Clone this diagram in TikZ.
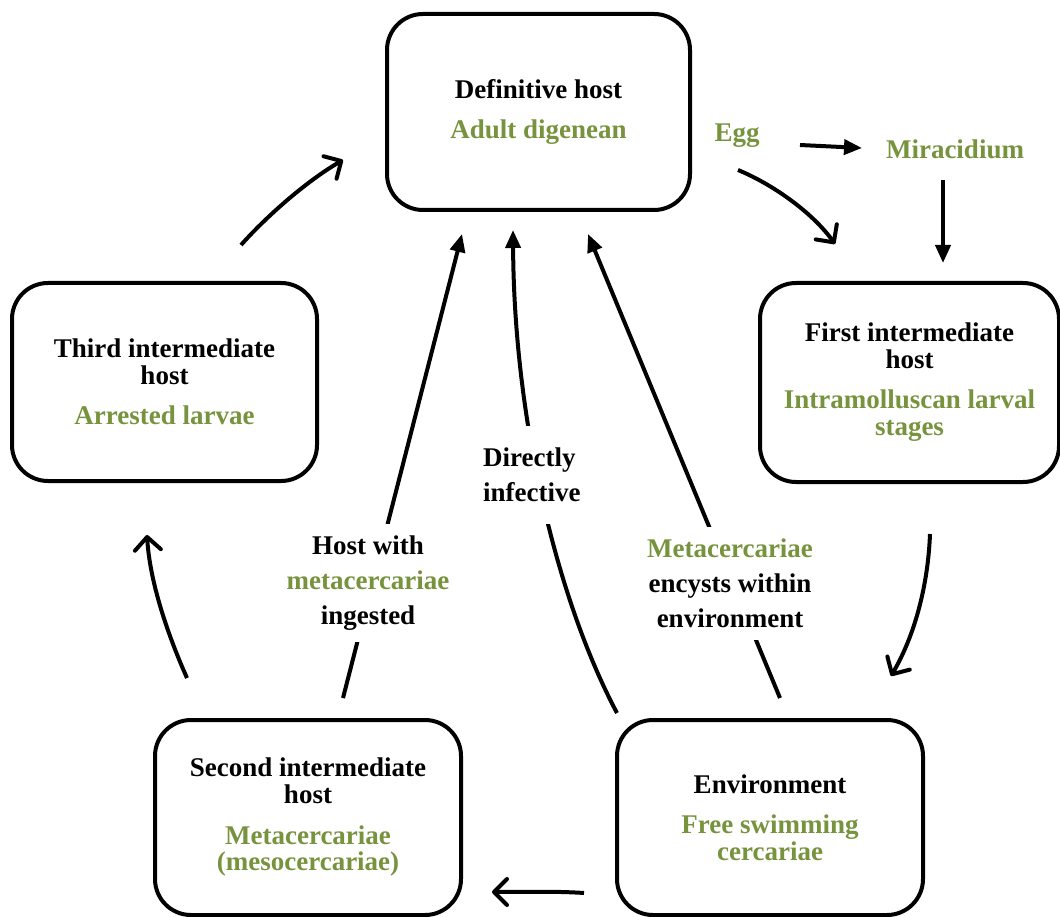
\documentclass[tikz,border=0pt]{standalone}
\usepackage{fontspec}
\setmainfont{Liberation Serif}
\usetikzlibrary{arrows.meta,calc}
\definecolor{dgreen}{RGB}{119,147,61}
\begin{document}
\begin{tikzpicture}[x=1pt,y=-1pt,
  box/.style={draw, line width=4pt, rounded corners=36pt, align=center, inner sep=0pt,
    font=\bfseries\fontsize{27}{27}\selectfont},
  lbl/.style={align=center, fill=white, inner xsep=3pt, inner ysep=12pt,
    font=\bfseries\fontsize{27}{35}\selectfont},
  word/.style={font=\bfseries\fontsize{27}{27}\selectfont, text=dgreen, inner sep=2pt},
  openarrow/.style={line width=4pt, -{Straight Barb[length=13pt,width=26pt,round]}},
  fillarrow/.style={line width=4pt, -{Triangle[length=18pt,width=15pt]}}]
\useasboundingbox (0,0) rectangle (1060,917);
% boxes
\node[box, minimum width=303pt, minimum height=196pt] (def) at (538.5,112)
  {Definitive host\\[13pt]\textcolor{dgreen}{Adult digenean}};
\node[box, minimum width=299pt, minimum height=199pt] (first) at (909.5,382.5)
  {First intermediate\\host\\[13pt]\textcolor{dgreen}{Intramolluscan larval}\\\textcolor{dgreen}{stages}};
\node[box, minimum width=305pt, minimum height=198pt] (third) at (164.5,382)
  {Third intermediate\\host\\[13pt]\textcolor{dgreen}{Arrested larvae}};
\node[box, minimum width=306pt, minimum height=195pt] (second) at (308,817.5)
  {Second intermediate\\host\\[13pt]\textcolor{dgreen}{Metacercariae}\\\textcolor{dgreen}{(mesocercariae)}};
\node[box, minimum width=306pt, minimum height=195pt] (env) at (770,817.5)
  {Environment\\[13pt]\textcolor{dgreen}{Free swimming}\\\textcolor{dgreen}{cercariae}};
% small labels
\node[word] (egg) at (737,136) {Egg};
\node[word] (mira) at (955,149) {Miracidium};
% connectors
\draw[openarrow] ($(third.north)+(76.5,-36)$) .. controls (265,218) and (305,182) .. ($(def.west)+(-42,48)$);
\draw[openarrow] ($(egg.center)+(1,34)$) .. controls (772,184) and (812,212) .. ($(first.north)+(-74.5,-37)$);
\draw[fillarrow] ($(egg.center)+(63,9)$) -- ($(mira.center)+(-93,-1)$);
\draw[fillarrow] ($(mira.center)+(-12,31)$) -- ($(first.north)+(33.5,-18)$);
\draw[openarrow] ($(first.south)+(20.5,50)$) .. controls (928,585) and (915,635) .. ($(env.north)+(121,-42)$);
\draw[openarrow] ($(env.west)+(-31,75.5)$) .. controls (555,891) and (520,892) .. ($(second.east)+(29,74.5)$);
\draw[openarrow] ($(second.north)+(-121,-40)$) .. controls (170,640) and (150,585) .. ($(third.south)+(-17.5,52)$);
\draw[fillarrow] ($(second.north)+(35,-20)$) -- ($(def.south)+(-76.5,22)$);
\draw[fillarrow] ($(env.north)+(10,-20)$) -- ($(def.south)+(49.5,22)$);
\draw[fillarrow] ($(env.north)+(-153,-5)$) .. controls (557,600) and (514,420) .. ($(def.south)+(-25.5,18)$);
% connector labels
\node[lbl, align=left, anchor=west, inner ysep=22pt] (direct) at (480,475) {Directly\\infective};
\node[lbl] (hostlbl) at (368,583) {Host with\\\textcolor{dgreen}{metacercariae}\\ingested};
\node[lbl] (metalbl) at (730,583) {\textcolor{dgreen}{Metacercariae}\\encysts within\\environment};
\end{tikzpicture}
\end{document}
